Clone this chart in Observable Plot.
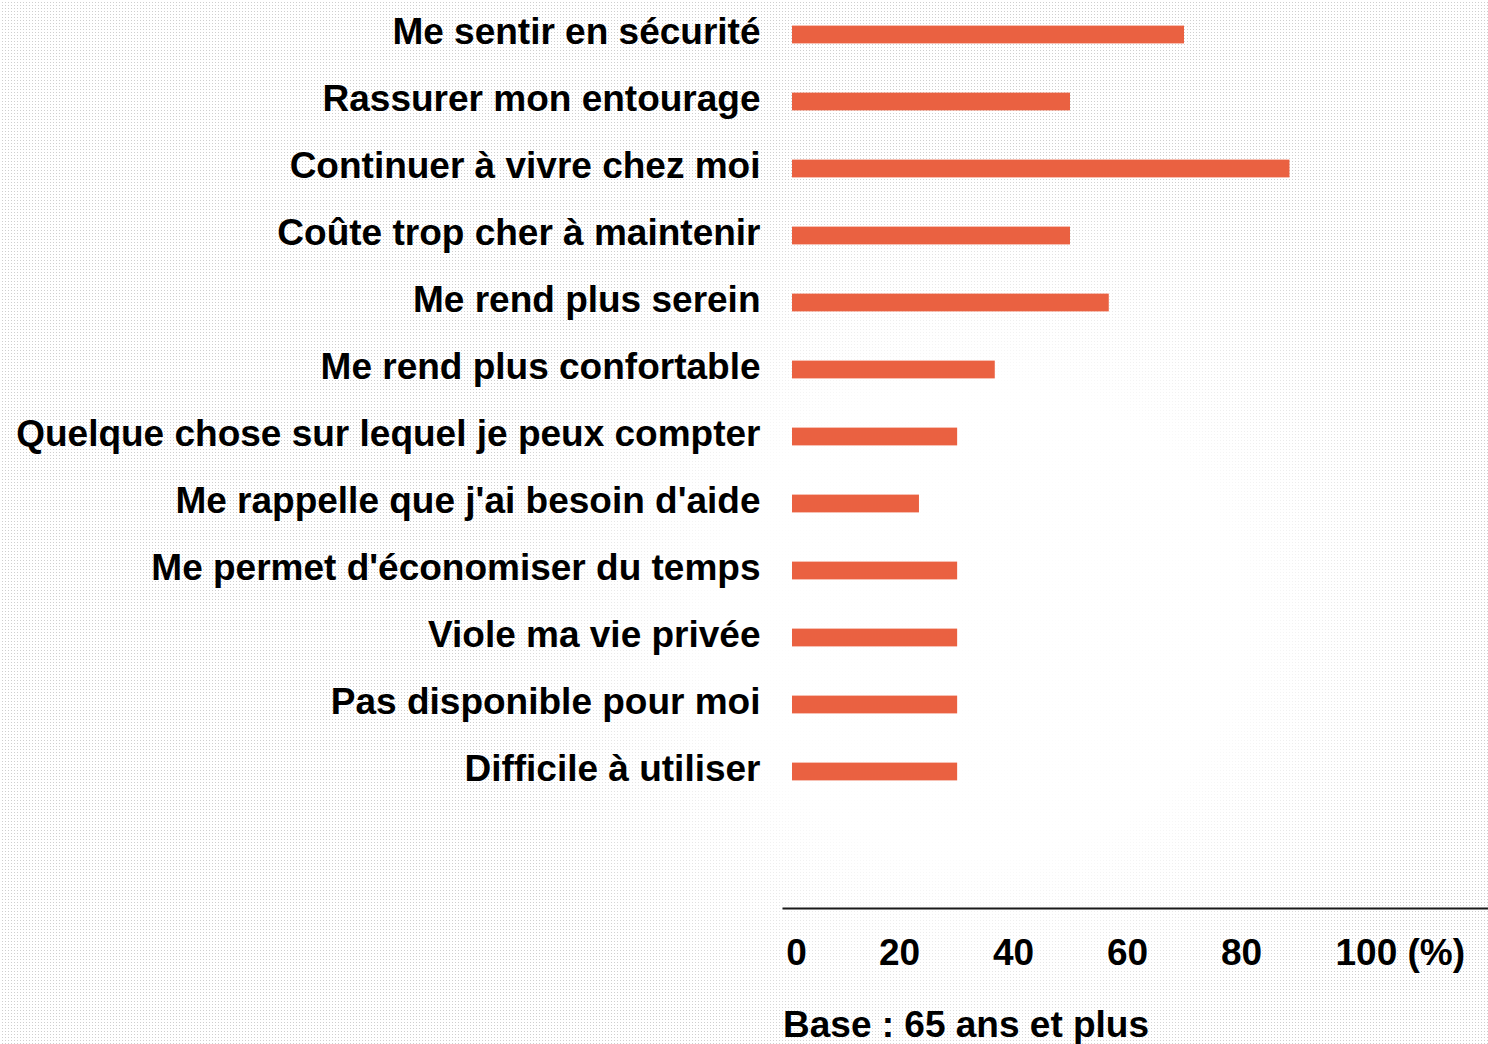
<!DOCTYPE html>
<html><head><meta charset="utf-8">
<script src="https://cdn.jsdelivr.net/npm/d3@7"></script>
<script src="https://cdn.jsdelivr.net/npm/@observablehq/plot@0.6"></script>
<style>
html,body{margin:0;padding:0;width:1488px;height:1044px;overflow:hidden;}
body{background-color:#fff;background-image:linear-gradient(#fff 2px, transparent 2px),linear-gradient(90deg,#fff 2px,#cfcfcf 2px);background-size:3px 3px;position:relative;font-family:"Liberation Sans",Arial,sans-serif;}
#glow{position:absolute;left:0;top:0;width:1488px;height:1044px;background:radial-gradient(ellipse 520px 470px at 980px 620px, rgba(255,255,255,0.95) 50%, rgba(255,255,255,0) 100%);}
#chart{position:relative;}
#caption{position:relative;margin:16px 0 0 783px;font:700 37px/37px "Liberation Sans",Arial,sans-serif;color:#000;white-space:nowrap;}
</style></head>
<body>
<div id="glow"></div>
<div id="chart"></div>
<div id="caption">Base : 65 ans et plus</div>
<script>
const labels = [
  "Me sentir en sécurité",
  "Rassurer mon entourage",
  "Continuer à vivre chez moi",
  "Coûte trop cher à maintenir",
  "Me rend plus serein",
  "Me rend plus confortable",
  "Quelque chose sur lequel je peux compter",
  "Me rappelle que j'ai besoin d'aide",
  "Me permet d'économiser du temps",
  "Viole ma vie privée",
  "Pas disponible pour moi",
  "Difficile à utiliser"
];
const values = [70, 50, 88.5, 50, 56.8, 36.8, 30.2, 23.5, 30.2, 30.2, 30.2, 30.2];
const tickValues = [0, 20, 40, 60, 80, 100];
const tickLabels = ["0", "20", "40", "60", "80", "100 (%)"];

const data = labels.map((label, i) => ({label, value: values[i]}));
const ticks = tickValues.map((v, i) => ({v, t: tickLabels[i]}));
const font = {fontSize: 37, fontWeight: "bold", fill: "#000"};

const chart = Plot.plot({
  width: 1488, height: 990,
  marginLeft: 785, marginRight: 0, marginTop: 0, marginBottom: 82,
  style: {background: "transparent", fontFamily: '"Liberation Sans", Arial, sans-serif', color: "#000"},
  x: {domain: [0, 123.33], axis: null},
  y: {domain: labels, range: [0, 806.4], padding: 0},
  marks: [
    Plot.barX(data, {x: "value", y: "label", fill: "#EA6141", insetTop: 24.6, insetBottom: 24.6, insetLeft: 7}),
    Plot.axisY({tickSize: 0, tickPadding: 25, label: null, dy: -3, ...font}),
    Plot.frame({anchor: "bottom", stroke: "#1a1a1a", strokeWidth: 2, insetLeft: -2}),
    Plot.text(ticks.filter(d => d.v > 0 && d.v < 100), {x: "v", text: "t", frameAnchor: "bottom", dy: 56, textAnchor: "middle", ...font}),
    Plot.text(ticks.filter(d => d.v === 0), {x: "v", text: "t", frameAnchor: "bottom", dy: 56, dx: 11, textAnchor: "middle", ...font}),
    Plot.text(ticks.filter(d => d.v === 100), {x: "v", text: "t", frameAnchor: "bottom", dy: 56, dx: -20, textAnchor: "start", ...font})
  ]
});
document.getElementById("chart").appendChild(chart);
</script>
</body></html>
